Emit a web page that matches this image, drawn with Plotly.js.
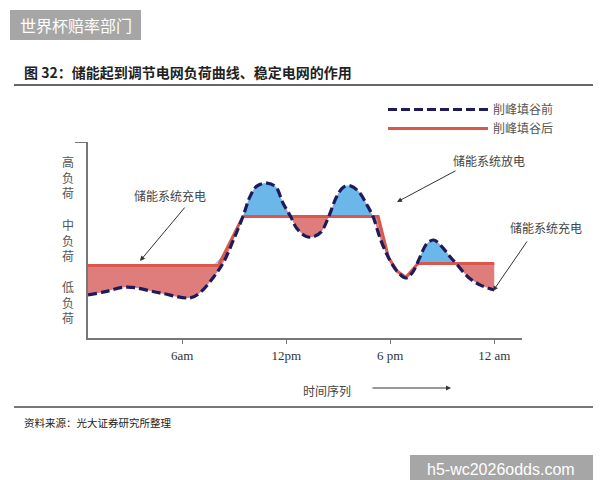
<!DOCTYPE html>
<html>
<head>
<meta charset="utf-8">
<script src="https://cdn.plot.ly/plotly-3.0.1.min.js"></script>
<style>html,body{margin:0;padding:0;background:#fff;}#chart{width:600px;height:480px;}</style>
</head>
<body>
<div id="chart"></div>
<script>
// ---- data (hours of day, relative load 0-100) ----
var beforeHours = [0.56, 1.5, 2.8, 4.7, 6.46, 7.0, 7.8, 8.4, 8.95, 9.5, 9.9, 10.3, 10.9, 11.4, 11.8, 12.25, 12.6, 13.1, 13.5, 14.0, 14.45, 14.9, 15.3, 15.7, 16.2, 16.65, 17.0, 17.45, 17.9, 18.4, 18.9, 19.3, 19.7, 20.1, 20.5, 21.0, 21.4, 21.8, 22.5, 23.2, 24.0];
var beforeLoad  = [22, 23.5, 26, 23, 20.5, 23, 31, 39, 50, 62, 72, 77.5, 79, 77, 69, 62, 56, 52, 51.5, 54, 62, 72, 77, 77.6, 74.5, 68, 62, 50, 41, 34, 30.6, 33.7, 41, 48, 50, 46.4, 42, 38, 31, 27, 24.5];
var afterHours = [0.56, 8.08, 9.5, 17.3, 17.9, 18.4, 18.9, 19.6, 24.0];
var afterLoad  = [37, 37, 62, 62, 41, 34, 31, 38, 38];
var tickHours = [6, 12, 18, 24];
var tickLabels = ['6am', '12pm', '6 pm', '12 am'];
var seriesNames = ['削峰填谷前', '削峰填谷后'];

// ---- helpers ----
function afterAt(h) {
  for (var i = 0; i < afterHours.length - 1; i++) {
    if (h >= afterHours[i] && h <= afterHours[i + 1]) {
      var t = (h - afterHours[i]) / (afterHours[i + 1] - afterHours[i]);
      return afterLoad[i] + t * (afterLoad[i + 1] - afterLoad[i]);
    }
  }
  return afterLoad[afterLoad.length - 1];
}
var afterOnGrid = beforeHours.map(afterAt);
var upperOnGrid = beforeLoad.map(function (v, i) { return Math.max(v, afterOnGrid[i]); });

// pixel -> paper conversion for decorations
var L = 88, R = 522, T = 142, B = 338;
function px(x) { return (x - L) / (R - L); }
function py(y) { return (B - y) / (B - T); }

var cjk = 'Noto Sans CJK SC, sans-serif';
var noLine = {width: 0};

var traces = [
  {x: beforeHours, y: beforeLoad, mode: 'lines', line: {width: 0, shape: 'spline'}, showlegend: false, hoverinfo: 'skip'},
  {x: afterHours, y: afterLoad, mode: 'lines', line: noLine, fill: 'tonexty', fillcolor: '#df7c7c', showlegend: false, hoverinfo: 'skip'},
  {x: beforeHours, y: afterOnGrid, mode: 'lines', line: noLine, showlegend: false, hoverinfo: 'skip'},
  {x: beforeHours, y: upperOnGrid, mode: 'lines', line: {width: 0, shape: 'spline'}, fill: 'tonexty', fillcolor: '#6bb7ea', showlegend: false, hoverinfo: 'skip'},
  {x: afterHours, y: afterLoad, mode: 'lines', name: seriesNames[1], legendrank: 2, line: {color: '#d9584b', width: 3}},
  {x: beforeHours, y: beforeLoad, mode: 'lines', name: seriesNames[0], legendrank: 1, line: {color: '#1e1b5c', width: 3.2, dash: '9px,4px', shape: 'spline'}}
];

function arrow(hx, hy, tx, ty) {
  return {xref: 'paper', yref: 'paper', x: px(hx), y: py(hy), ax: tx - hx, ay: ty - hy, axref: 'pixel', ayref: 'pixel',
          text: '', showarrow: true, arrowhead: 2, arrowsize: 1, arrowwidth: 1, arrowcolor: '#333'};
}
function label(x, y, text, size, color, anchor, family) {
  return {xref: 'paper', yref: 'paper', x: px(x), y: py(y), text: text, showarrow: false,
          xanchor: anchor || 'center', yanchor: 'middle', font: {family: family || cjk, size: size, color: color}};
}

var annotations = [
  label(22, 72, '<b>图 32：储能起到调节电网负荷曲线、稳定电网的作用</b>', 14, '#222', 'left'),
  label(22, 422, '资料来源：光大证券研究所整理', 10.5, '#222', 'left'),
  label(75.5, 25, '世界杯赔率部门', 16, '#ffffff'),
  label(501, 469, 'h5-wc2026odds.com', 16, '#ffffff', 'center', 'Liberation Sans, Arial, sans-serif'),
  label(68, 177, '高<br>负<br>荷', 12, '#555'),
  label(68, 240, '中<br>负<br>荷', 12, '#555'),
  label(68, 302, '低<br>负<br>荷', 12, '#555'),
  label(327, 390, '时间序列', 12, '#444'),
  arrow(451, 388, 371, 388),
  label(170, 195, '储能系统充电', 12, '#444'),
  arrow(140, 261, 186, 206),
  label(489, 160, '储能系统放电', 12, '#444'),
  arrow(397, 202, 457, 170),
  label(546, 227, '储能系统充电', 12, '#444'),
  arrow(493, 291, 528, 240)
];

var shapes = [
  {type: 'rect', xref: 'paper', yref: 'paper', x0: px(10), x1: px(141), y0: py(10), y1: py(40), fillcolor: '#a6a6a6', line: {width: 0}},
  {type: 'rect', xref: 'paper', yref: 'paper', x0: px(410), x1: px(593), y0: py(455), y1: py(495), fillcolor: '#a6a6a6', line: {width: 0}},
  {type: 'line', xref: 'paper', yref: 'paper', x0: px(14), x1: px(593), y0: py(85), y1: py(85), line: {color: '#666', width: 2}},
  {type: 'line', xref: 'paper', yref: 'paper', x0: px(14), x1: px(593), y0: py(407), y1: py(407), line: {color: '#777', width: 2}}
];

var layout = {
  width: 600, height: 480,
  margin: {l: L, r: 600 - R, t: T, b: 480 - B, pad: 0},
  paper_bgcolor: '#ffffff', plot_bgcolor: '#ffffff',
  showlegend: true,
  legend: {x: px(383), y: py(95), xanchor: 'left', yanchor: 'top', itemwidth: 100, traceorder: 'normal',
           font: {family: cjk, size: 12, color: '#555'}, bgcolor: 'rgba(0,0,0,0)', tracegroupgap: 0},
  xaxis: {range: [0.56, 25.6], showgrid: false, zeroline: false, showline: true, linecolor: '#777', linewidth: 2,
          tickvals: tickHours, ticktext: tickLabels, ticks: 'outside', ticklen: 4, tickcolor: '#777',
          tickfont: {family: 'Liberation Serif, serif', size: 13, color: '#333'}},
  yaxis: {range: [0, 100], showgrid: false, zeroline: false, showline: true, linecolor: '#777', linewidth: 2,
          tickvals: [100], ticktext: [''], ticks: 'outside', ticklen: 11, tickcolor: '#777', showticklabels: false},
  annotations: annotations,
  shapes: shapes
};

Plotly.newPlot('chart', traces, layout, {displayModeBar: false, staticPlot: true});
</script>
</body>
</html>
